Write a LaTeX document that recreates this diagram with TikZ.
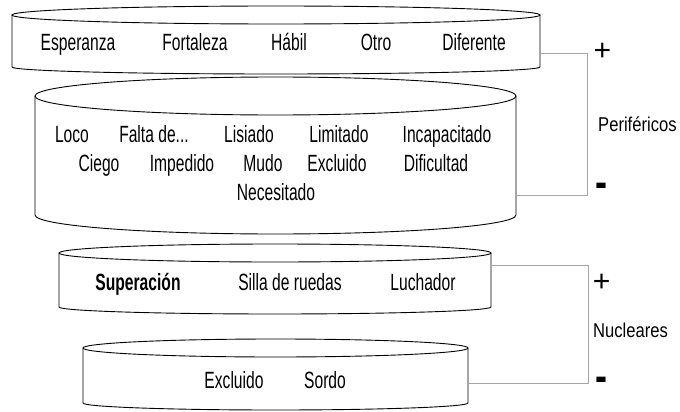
\documentclass[tikz,border=0pt]{standalone}
\usepackage{fontspec}
\setmainfont{Liberation Sans}
\newfontfamily\agency[FakeStretch=0.665]{Liberation Sans}
\newfontfamily\arialn[FakeStretch=0.83]{Liberation Sans}
\definecolor{brk}{HTML}{A6A6A6}
\newcommand\cylbody[6]{%
  \pgfmathsetmacro\cylcx{(#1+#2)/2}%
  \pgfmathsetmacro\cylrx{(#2-#1)/2}%
  \draw[cyl] (\cylcx,#3) ellipse [x radius=\cylrx, y radius=#4];
  \draw[cyl] (#1,#3) -- (#1,#5) arc[start angle=180,end angle=0,x radius=\cylrx,y radius=#6] -- (#2,#3);
}
\tikzset{
  cyl/.style={draw=black, line width=0.9pt},
  word/.style={anchor=base, inner sep=0pt, font=\agency\fontsize{23.5}{23.5}\selectfont},
  side/.style={inner sep=0pt, font=\arialn\fontsize{20}{20}\selectfont},
  sign/.style={inner sep=0pt, font=\fontsize{30}{30}\selectfont},
  bracket/.style={draw=brk, line width=0.9pt}
}
\begin{document}
\begin{tikzpicture}[x=1pt,y=-1pt]
\useasboundingbox (0,0) rectangle (680,412);
\fill[white] (0,0) rectangle (680,412);
% cylinders
\cylbody{12}{540}{15}{9}{67}{7}
\cylbody{35}{516}{96}{19}{215}{19}
\cylbody{59}{491}{253}{9}{307}{7}
\cylbody{83}{468}{348}{9}{403}{7}
% anchor coordinates on cylinder sides
\coordinate (c1r) at (540,53);
\coordinate (c2r) at (516,195);
\coordinate (c3r) at (491,265);
\coordinate (c4r) at (468,383);
\coordinate (k1) at (587,195);
\coordinate (k2) at (588,383);
% words, cylinder 1
\node[word] (w1) at (78,51) {Esperanza};
\node[word] (w2) at (195,51) {Fortaleza};
\node[word] (w3) at (289,51) {Hábil};
\node[word] (w4) at (376,51) {Otro};
\node[word] (w5) at (474,51) {Diferente};
% cylinder 2
\node[word] (w6) at (72,142.7) {Loco};
\node[word] (w7) at (154,142.7) {Falta de...};
\node[word] (w8) at (249,142.7) {Lisiado};
\node[word] (w9) at (339,142.7) {Limitado};
\node[word] (w10) at (447,142.7) {Incapacitado};
\node[word] (w11) at (99,171) {Ciego};
\node[word] (w12) at (182,171) {Impedido};
\node[word] (w13) at (263,171) {Mudo};
\node[word] (w14) at (337,171) {Excluido};
\node[word] (w15) at (436,171) {Dificultad};
\node[word] (w16) at (276,200) {Necesitado};
% cylinder 3
\node[word, font=\agency\bfseries\fontsize{23.5}{23.5}\selectfont] (w17) at (138,290) {Superación};
\node[word] (w18) at (290,290) {Silla de ruedas};
\node[word] (w19) at (423,290) {Luchador};
% cylinder 4
\node[word] (w20) at (234,388.3) {Excluido};
\node[word] (w21) at (325,388.3) {Sordo};
% brackets
\draw[bracket] (c1r) -| (k1) -- (c2r);
\draw[bracket] (c3r) -| (k2) -- (c4r);
% side labels
\node[sign] (p1) at (602.5,51.5) {+};
\node[sign] (m1) at (601,190.5) {\scalebox{1.2}[1.5]{\bfseries -}};
\node[side, anchor=west] (l1) at (598,124.5) {Periféricos};
\node[sign] (p2) at (601.7,282.5) {+};
\node[sign] (m2) at (601.5,384.5) {\scalebox{1.2}[1.5]{\bfseries -}};
\node[side, anchor=west] (l2) at (593,330) {Nucleares};
\end{tikzpicture}
\end{document}
